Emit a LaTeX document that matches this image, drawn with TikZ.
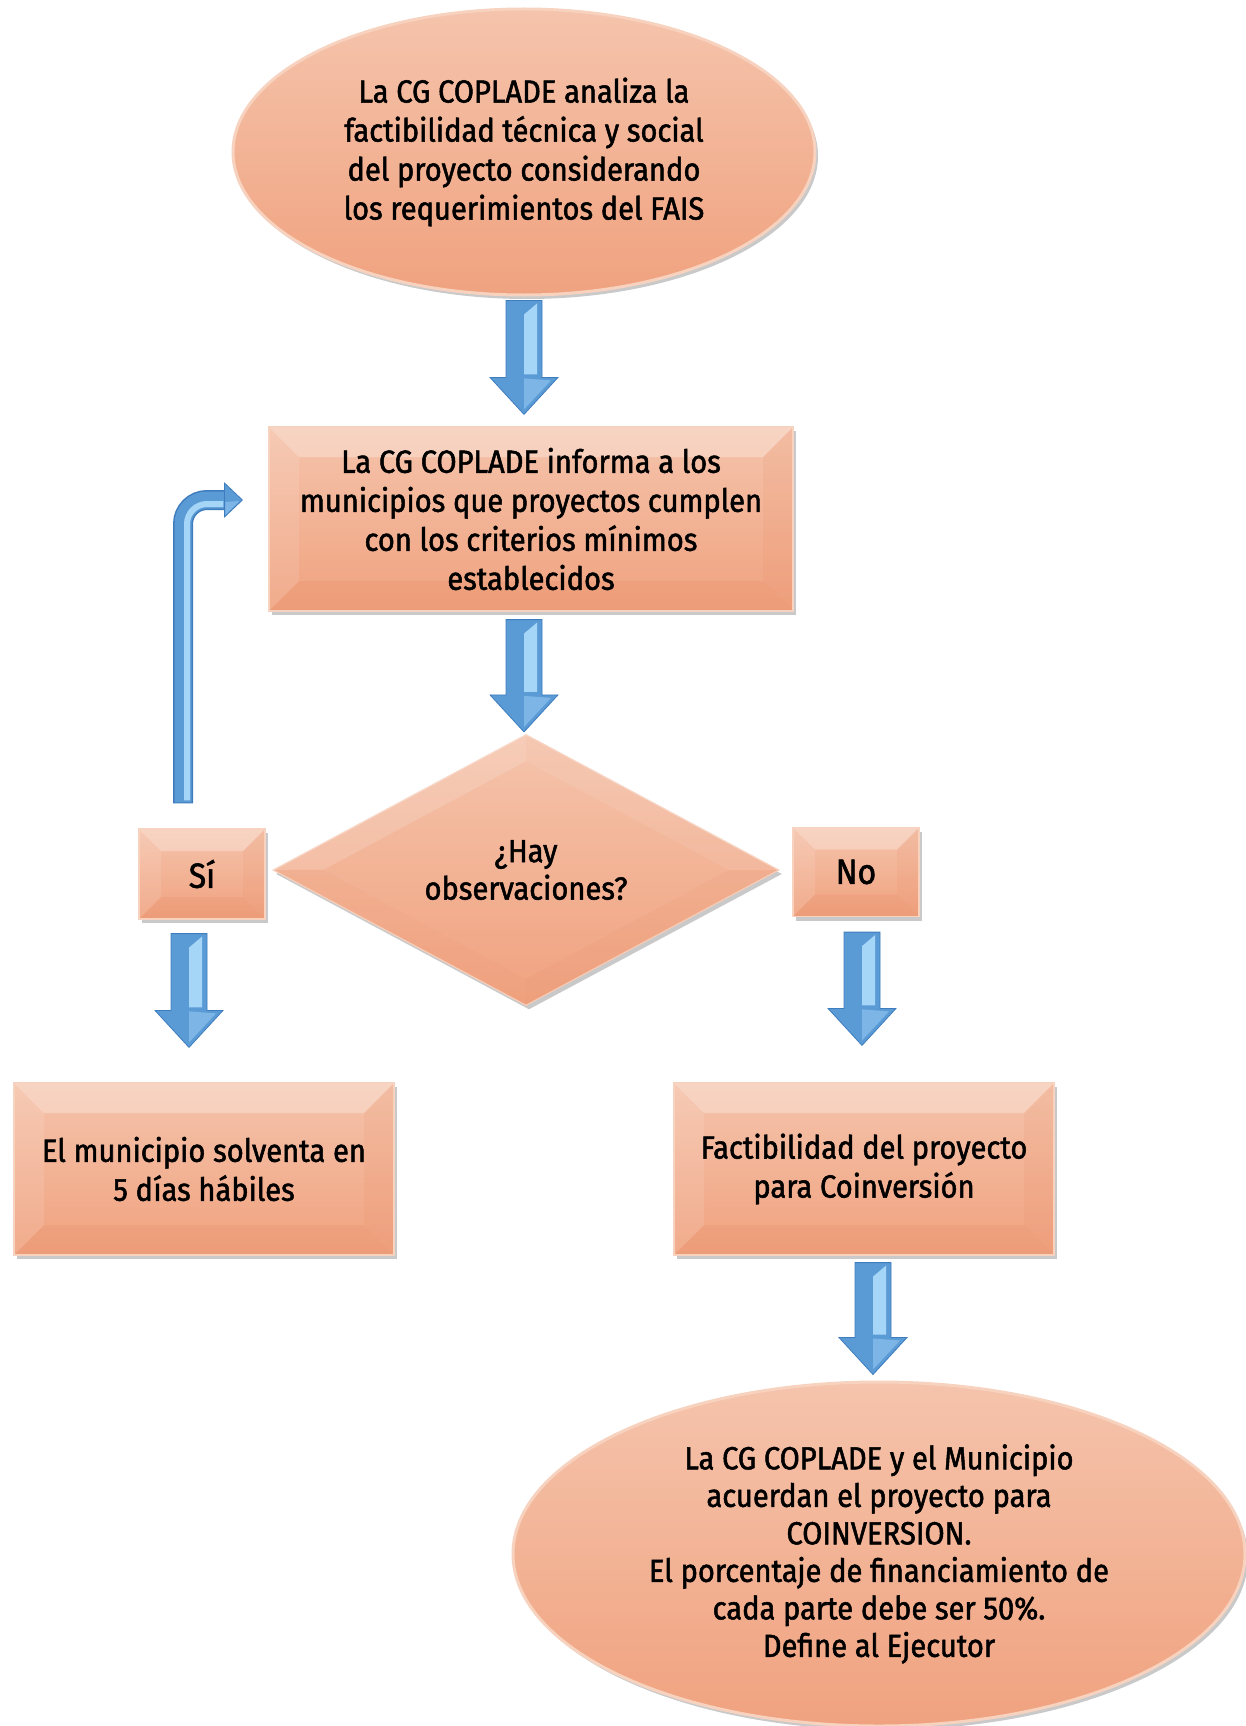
\documentclass[tikz,border=0pt]{standalone}
\usepackage{fontspec}
\newfontfamily\dfont{Fira Sans}[FakeBold=1.6,FakeStretch=0.91]
\usetikzlibrary{shapes.geometric,shadows,calc}
\definecolor{salA}{HTML}{F5C4AC}
\definecolor{salB}{HTML}{F0A27F}
\definecolor{salE}{HTML}{F7D2BF}
\definecolor{salD}{HTML}{E07E55}
\definecolor{bluM}{HTML}{5B9BD5}
\definecolor{bluD}{HTML}{3E7CBE}
\definecolor{bluL}{HTML}{A6D6F7}
\definecolor{bluL2}{HTML}{7DB6E6}
\tikzset{
  txt/.style={font=\dfont\fontsize{32}{39}\selectfont, text=black, align=center, inner sep=0pt},
  salmon/.style={top color=salA, bottom color=salB, draw=salE, line width=1.2pt,
    drop shadow={shadow xshift=3pt, shadow yshift=-4pt, opacity=0.3, fill=black!70}},
  bevel/.style={path picture={
    \path (path picture bounding box.north west) coordinate (pNW)
          (path picture bounding box.north east) coordinate (pNE)
          (path picture bounding box.south west) coordinate (pSW)
          (path picture bounding box.south east) coordinate (pSE);
    \fill[white,opacity=0.28] (pNW) -- (pNE) -- ([xshift=-#1,yshift=-#1]pNE) -- ([xshift=#1,yshift=-#1]pNW) -- cycle;
    \fill[white,opacity=0.10] (pNW) -- ([xshift=#1,yshift=-#1]pNW) -- ([xshift=#1,yshift=#1]pSW) -- (pSW) -- cycle;
    \fill[salD,opacity=0.10] (pNE) -- ([xshift=-#1,yshift=-#1]pNE) -- ([xshift=-#1,yshift=#1]pSE) -- (pSE) -- cycle;
    \fill[salD,opacity=0.16] (pSW) -- ([xshift=#1,yshift=#1]pSW) -- ([xshift=-#1,yshift=#1]pSE) -- (pSE) -- cycle;
  }},
  rbox/.style={salmon, txt, rectangle, bevel=#1},
  ell/.style={salmon, txt, ellipse, draw=salE, line width=3pt},
  dia/.style={salmon, txt, diamond, minimum width=506pt, minimum height=271pt},
}
\newcommand{\fatarrow}[2]{%
  \fill[bluM, draw=bluD, line width=0.8pt] let \p1=(#1), \p2=(#2) in
    (\x1-18pt,\y1) -- (\x1+18pt,\y1) -- (\x1+18pt,\y2+37pt) -- (\x1+34pt,\y2+37pt)
    -- (\x1,\y2) -- (\x1-34pt,\y2+37pt) -- (\x1-18pt,\y2+37pt) -- cycle;
  \fill[bluL] let \p1=(#1), \p2=(#2) in
    (\x1,\y1-14pt) -- (\x1+13pt,\y1-3pt) -- (\x1+13pt,\y2+40pt) -- (\x1,\y2+40pt) -- cycle;
  \fill[bluL2] let \p1=(#1), \p2=(#2) in
    (\x1,\y2+5pt) -- (\x1,\y2+36pt) -- (\x1+27pt,\y2+34pt) -- cycle;
}
\begin{document}
\begin{tikzpicture}[x=1pt,y=-1pt]
\useasboundingbox (0,0) rectangle (1246,1726);

\node[ell, minimum width=582pt, minimum height=286pt] (top) at (524,152)
  {La CG COPLADE analiza la\\factibilidad técnica y social\\del proyecto considerando\\los requerimientos del FAIS};
\node[rbox=30pt, minimum width=524pt, minimum height=184pt] (inf) at (531,519)
  {La CG COPLADE informa a los\\municipios que proyectos cumplen\\con los criterios mínimos\\establecidos};
\node[dia, font=\dfont\fontsize{32}{37.5}\selectfont] (dia) at (526,870) {¿Hay\\observaciones?};
\fill[white,opacity=0.15] (dia.west) -- (dia.north) -- ($(dia.center)!0.8!(dia.north)$) -- ($(dia.center)!0.8!(dia.west)$) -- cycle;
\fill[white,opacity=0.08] (dia.north) -- (dia.east) -- ($(dia.center)!0.8!(dia.east)$) -- ($(dia.center)!0.8!(dia.north)$) -- cycle;
\fill[salD,opacity=0.08] (dia.east) -- (dia.south) -- ($(dia.center)!0.8!(dia.south)$) -- ($(dia.center)!0.8!(dia.east)$) -- cycle;
\fill[salD,opacity=0.05] (dia.south) -- (dia.west) -- ($(dia.center)!0.8!(dia.west)$) -- ($(dia.center)!0.8!(dia.south)$) -- cycle;

\node[rbox=22pt, minimum width=126pt, minimum height=90pt, font=\dfont\fontsize{35}{39}\selectfont] (si) at (202,874) {Sí};
\node[rbox=22pt, minimum width=126pt, minimum height=89pt, font=\dfont\fontsize{35}{39}\selectfont] (no) at (856,872) {No};
\node[rbox=30pt, minimum width=380pt, minimum height=172pt] (sol) at (204,1169)
  {El municipio solventa en\\5 días hábiles};
\node[rbox=30pt, minimum width=380pt, minimum height=172pt] (fac) at (864,1169)
  {Factibilidad del proyecto\\para Coinversión};
\node[ell, minimum width=732pt, minimum height=344pt, font=\dfont\fontsize{32}{37.5}\selectfont] (fin) at (879,1554)
  {La CG COPLADE y el Municipio\\acuerdan el proyecto para\\COINVERSION.\\El porcentaje de financiamiento de\\cada parte debe ser 50\%.\\Define al Ejecutor};

% down arrows
\fatarrow{$(top.south)+(0,4)$}{$(inf.north -| top.south)+(0,-12)$}
\fatarrow{$(inf.south -| dia.north)+(-2,8)$}{$(dia.north)+(-2,-2)$}
\fatarrow{$(si.south)+(-13,14)$}{$(sol.north)+(-15,-35)$}
\fatarrow{$(no.south)+(6,15)$}{$(fac.north)+(-2,-37)$}
\fatarrow{$(fac.south)+(9,7)$}{$(fin.north -| fac.south)+(9,-6)$}

% loop arrow
\coordinate (ls) at ($(si.north)+(-19,-25)$);
\coordinate (lt) at ($(inf.west)+(-26,-19)$);
\draw[bluD, line width=20pt, rounded corners=24pt] (ls) |- ($(lt)+(-17,0)$);
\draw[bluM, line width=17pt, rounded corners=24pt] ($(ls)+(0,-1)$) |- ($(lt)+(-17,0)$);
\draw[bluL, line width=6pt, rounded corners=20pt] ($(ls)+(4,-3)$) |- ($(lt)+(-19,4)$);
\fill[bluM, draw=bluD, line width=0.8pt] (lt) -- ($(lt)+(-18,-17)$) -- ($(lt)+(-18,17)$) -- cycle;
\fill[bluL2] ($(lt)+(-3,1)$) -- ($(lt)+(-17,2)$) -- ($(lt)+(-17,15)$) -- cycle;
\end{tikzpicture}
\end{document}
